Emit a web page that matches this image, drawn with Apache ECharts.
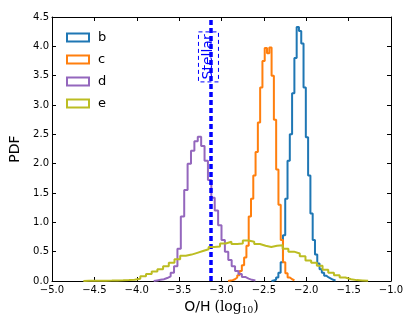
<!DOCTYPE html>
<html>
<head>
<meta charset="utf-8">
<script src="https://cdn.jsdelivr.net/npm/echarts@6/dist/echarts.min.js"></script>
<style>
  html, body { margin: 0; padding: 0; background: #fff; }
  #chart { width: 415px; height: 332px; }
</style>
</head>
<body>
<div id="chart"></div>
<script>
  // histogram bins: first edge, bin width, heights (PDF)
  var bStart = -2.41, bWidth = 0.027
  var bValues = [0.01, 0.02, 0.06, 0.14, 0.32, 0.78, 1.40, 2.05, 2.50, 3.20,
    3.80, 4.33, 4.26, 4.05, 3.30, 2.45, 1.80, 1.15, 0.70, 0.45,
    0.30, 0.20, 0.14, 0.09, 0.06, 0.04, 0.02, 0.01]

  var cStart = -2.922, cWidth = 0.027
  var cValues = [0.01, 0.015, 0.03, 0.06, 0.10, 0.17, 0.27, 0.40, 0.60, 1.10,
    1.40, 1.80, 2.20, 2.70, 3.30, 3.75, 3.97, 3.88, 3.98, 3.50,
    2.75, 1.90, 1.30, 0.70, 0.32, 0.13, 0.06, 0.03, 0.01]

  var dStart = -3.80, dWidth = 0.04
  var dValues = [0.01, 0.02, 0.03, 0.05, 0.08, 0.14, 0.25, 0.55, 1.10, 1.55,
    2.00, 2.22, 2.38, 2.46, 2.30, 2.05, 1.72, 1.42, 1.20, 0.95,
    0.70, 0.50, 0.36, 0.25, 0.17, 0.12, 0.07, 0.04, 0.02, 0.01]

  var eStart = -4.63, eWidth = 0.0672
  var eValues = [0.003, 0.004, 0.005, 0.006, 0.007, 0.009, 0.011, 0.015, 0.02, 0.04,
    0.08, 0.12, 0.16, 0.20, 0.25, 0.31, 0.37, 0.43, 0.45, 0.48,
    0.51, 0.54, 0.58, 0.59, 0.64, 0.67, 0.63, 0.64, 0.69, 0.67,
    0.63, 0.60, 0.58, 0.60, 0.61, 0.55, 0.50, 0.47, 0.42, 0.35,
    0.31, 0.26, 0.19, 0.14, 0.10, 0.06, 0.03, 0.015, 0.01, 0.005]

  var stellarX = -3.13
  var names = ['b', 'c', 'd', 'e']
  var colors = ['#1f77b4', '#ff7f0e', '#9467bd', '#bcbd22']

  // outline of a step histogram, open at the bottom
  function stepPoints(start, width, vals) {
    var pts = [[start, 0]]
    for (var i = 0; i < vals.length; i++) {
      var x0 = +(start + i * width).toFixed(4)
      var x1 = +(start + (i + 1) * width).toFixed(4)
      pts.push([x0, vals[i]], [x1, vals[i]])
    }
    pts.push([+(start + vals.length * width).toFixed(4), 0])
    return pts
  }

  var hists = [
    stepPoints(bStart, bWidth, bValues),
    stepPoints(cStart, cWidth, cValues),
    stepPoints(dStart, dWidth, dValues),
    stepPoints(eStart, eWidth, eValues)
  ]

  var font = 'DejaVu Sans'
  var minus = function (v) { return v.toFixed(1).replace('-', '\u2212') }

  var series = names.map(function (n, i) {
    return {
      name: n,
      type: 'line',
      data: hists[i],
      symbol: 'none',
      clip: true,
      lineStyle: { color: colors[i], width: 2 },
      itemStyle: { color: '#fff', borderColor: colors[i], borderWidth: 2 },
      z: 2 + i
    }
  })
  series.push({
    type: 'line',
    data: [],
    z: 10,
    markLine: {
      silent: true,
      symbol: 'none',
      label: { show: false },
      lineStyle: { color: '#0000ff', width: 3.5, type: [5, 3] },
      data: [{ xAxis: stellarX }]
    }
  })

  var axisLine = { show: true, onZero: false, lineStyle: { color: '#000', width: 1 } }
  var tick = { show: true, inside: true, length: 4, lineStyle: { color: '#000' } }

  var myChart = echarts.init(document.getElementById('chart'), null, { renderer: 'canvas' })
  var option = {
    animation: false,
    backgroundColor: '#fff',
    textStyle: { fontFamily: font },
    grid: { left: 52, right: 24, top: 17, bottom: 51 },
    legend: {
      orient: 'vertical',
      left: 61,
      top: 26,
      icon: 'rect',
      itemWidth: 22,
      itemHeight: 8,
      itemGap: 9,
      textStyle: { fontSize: 13, color: '#000', fontFamily: font, padding: [0, 0, 0, 4] },
      data: names.map(function (n, i) {
        return { name: n, itemStyle: { color: '#fff', borderColor: colors[i], borderWidth: 2 } }
      })
    },
    xAxis: [{
      type: 'value',
      min: -5, max: -1, interval: 0.5,
      name: '{a|O/H} {b|(log}{s|10}{b|)}',
      nameLocation: 'middle',
      nameGap: 15,
      nameTextStyle: {
        rich: {
          a: { fontSize: 14, fontFamily: font, color: '#000' },
          b: { fontSize: 14, fontFamily: 'DejaVu Serif', color: '#000' },
          s: { fontSize: 9, fontFamily: 'DejaVu Serif', color: '#000', padding: [8, 0, 0, 0] }
        }
      },
      axisLine: axisLine,
      axisTick: tick,
      splitLine: { show: false },
      axisLabel: { color: '#000', fontSize: 10, margin: 4, formatter: minus }
    }, {
      type: 'value', position: 'top',
      min: -5, max: -1, interval: 0.5,
      axisLine: axisLine, axisTick: tick,
      splitLine: { show: false }, axisLabel: { show: false }
    }],
    yAxis: [{
      type: 'value',
      min: 0, max: 4.5, interval: 0.5,
      name: 'PDF',
      nameLocation: 'middle',
      nameGap: 21,
      nameTextStyle: { fontSize: 14, color: '#000', fontFamily: font },
      axisLine: axisLine,
      axisTick: tick,
      splitLine: { show: false },
      axisLabel: { color: '#000', fontSize: 10, margin: 3, formatter: function (v) { return v.toFixed(1) } }
    }, {
      type: 'value', position: 'right',
      min: 0, max: 4.5, interval: 0.5,
      axisLine: axisLine, axisTick: tick,
      splitLine: { show: false }, axisLabel: { show: false }
    }],
    series: series
  }
  myChart.setOption(option)

  // dashed "Stellar" box sitting on the vertical line near the top
  var p = myChart.convertToPixel({ xAxisIndex: 0, yAxisIndex: 0 }, [stellarX, 3.82])
  myChart.setOption({
    graphic: [{
      type: 'group',
      x: p[0] - 2,
      y: p[1],
      z: 100,
      children: [{
        type: 'rect',
        shape: { x: -10, y: -25, width: 20, height: 50 },
        style: { fill: '#fff', stroke: '#0000ff', lineWidth: 1, lineDash: [4, 3] }
      }, {
        type: 'text',
        rotation: Math.PI / 2,
        style: {
          text: 'Stellar', fill: '#0000ff',
          font: '14px "DejaVu Sans"', align: 'center', verticalAlign: 'middle'
        }
      }]
    }]
  })
  window.addEventListener('resize', myChart.resize)
</script>
</body>
</html>
